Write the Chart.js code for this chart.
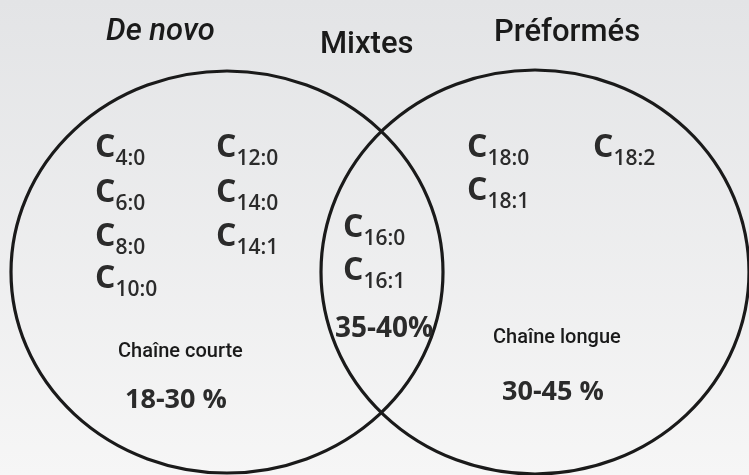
<!DOCTYPE html>
<html>
<head>
<meta charset="utf-8">
<script src="https://cdn.jsdelivr.net/npm/chart.js@4.4.1/dist/chart.umd.min.js"></script>
<style>
  html, body { margin: 0; padding: 0; background: #fff; }
  #wrap { width: 749px; height: 475px; }
</style>
</head>
<body>
<div id="wrap"><canvas id="venn" width="749" height="475"></canvas></div>
<script>
(function () {
  // Sets of the diagram: left circle, overlap, right circle
  const setNames = ["De novo", "Mixtes", "Préformés"];
  const chainLabels = ["Chaîne courte", "", "Chaîne longue"];
  const regionShares = ["18-30 %", "35-40%", "30-45 %"];

  // Fatty acids (subscript part of C_n:m) and the region each one belongs to
  const fattyAcids = ["4:0", "6:0", "8:0", "10:0", "12:0", "14:0", "14:1",
                      "16:0", "16:1", "18:0", "18:2", "18:1"];
  const acidRegion = [0, 0, 0, 0, 0, 0, 0, 1, 1, 2, 2, 2];

  // The two circles, in chart units (x 0..749, y 0..475 downwards)
  const circleCx = [227, 535];
  const circleCy = [272, 272];
  const circleRx = [216, 214];
  const circleRy = [201, 202];

  // Where each label sits (left edge, baseline), chart units
  const acidAnchors = [
    [95, 157], [95, 202], [95, 246], [95, 288],
    [216, 157], [216, 202], [216, 246],
    [343, 237], [343, 280],
    [467, 157], [593, 157], [467, 200]
  ];
  const setNameAnchors = [[106, 40], [320, 53], [494, 41]];
  const chainAnchors = [[118, 357], null, [493, 343]];
  const shareAnchors = [[125, 408], [335, 337], [502, 400]];

  const INK = "#1a1a1a";
  const TEXT = "#2b2b2b";

  const background = {
    id: "background",
    beforeDraw(chart) {
      const { ctx, width, height } = chart;
      const g = ctx.createLinearGradient(0, 0, 0, height);
      g.addColorStop(0, "#e3e4e6");
      g.addColorStop(1, "#f6f6f6");
      ctx.save();
      ctx.fillStyle = g;
      ctx.fillRect(0, 0, width, height);
      ctx.restore();
    },
  };

  const venn = {
    id: "venn",
    afterDatasetsDraw(chart) {
      const { ctx } = chart;
      const xs = chart.scales.x;
      const ys = chart.scales.y;
      const px = (v) => xs.getPixelForValue(v);
      const py = (v) => ys.getPixelForValue(v);

      // circles
      ctx.save();
      ctx.strokeStyle = INK;
      ctx.lineWidth = 3.2;
      circleCx.forEach((cx, i) => {
        const x = px(cx), y = py(circleCy[i]);
        const rx = Math.abs(px(cx + circleRx[i]) - x);
        const ry = Math.abs(py(circleCy[i] + circleRy[i]) - y);
        ctx.beginPath();
        ctx.ellipse(x, y, rx, ry, 0, 0, Math.PI * 2);
        ctx.stroke();
      });
      ctx.restore();

      ctx.save();
      ctx.textAlign = "left";
      ctx.textBaseline = "alphabetic";

      // set names
      ctx.fillStyle = INK;
      setNames.forEach((name, i) => {
        const [x, y] = setNameAnchors[i];
        ctx.font = i === 0 ? "italic 500 31px Roboto" : "500 31px Roboto";
        ctx.fillText(name, px(x), py(y));
      });

      // fatty acids C with subscript, placed at the dataset points
      ctx.fillStyle = TEXT;
      const meta = chart.getDatasetMeta(0);
      meta.data.forEach((pt, i) => {
        ctx.font = "700 32px 'Open Sans'";
        ctx.fillText("C", pt.x, pt.y);
        const w = ctx.measureText("C").width;
        ctx.font = "600 21px 'Open Sans'";
        ctx.fillText(fattyAcids[i], pt.x + w, pt.y + 8);
      });

      // chain length labels
      ctx.fillStyle = INK;
      ctx.font = "500 20px Roboto";
      chainLabels.forEach((t, i) => {
        if (!t) return;
        const [x, y] = chainAnchors[i];
        ctx.fillText(t, px(x), py(y));
      });

      // share percentages
      ctx.fillStyle = TEXT;
      regionShares.forEach((t, i) => {
        const [x, y] = shareAnchors[i];
        ctx.font = i === 1 ? "700 28px 'Open Sans'" : "700 27px 'Open Sans'";
        ctx.fillText(t, px(x), py(y));
      });
      ctx.restore();
    },
  };

  new Chart(document.getElementById("venn"), {
    type: "scatter",
    data: {
      datasets: [
        {
          label: "Acides gras",
          data: fattyAcids.map((a, i) => ({
            x: acidAnchors[i][0],
            y: acidAnchors[i][1],
            region: acidRegion[i],
          })),
          pointRadius: 0,
          pointHoverRadius: 0,
        },
      ],
    },
    options: {
      responsive: false,
      animation: false,
      layout: { padding: 0 },
      plugins: {
        legend: { display: false },
        tooltip: { enabled: false },
      },
      scales: {
        x: { type: "linear", min: 0, max: 749, display: false },
        y: { type: "linear", min: 0, max: 475, reverse: true, display: false },
      },
    },
    plugins: [background, venn],
  });
})();
</script>
</body>
</html>
